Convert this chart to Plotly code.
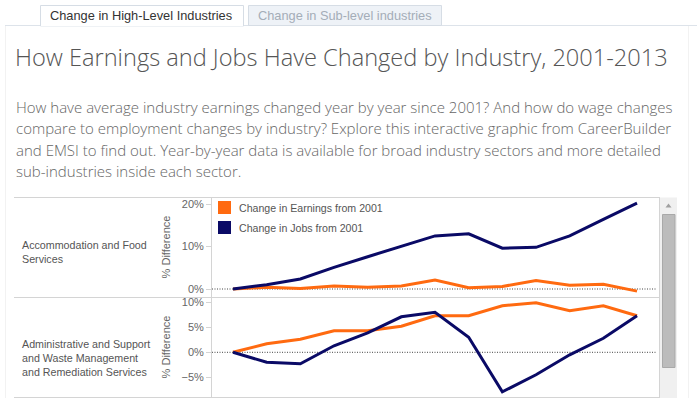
import plotly.graph_objects as go

years = list(range(2001, 2014))
industries = ["Accommodation and Food<br>Services",
              "Administrative and Support<br>and Waste Management<br>and Remediation Services"]
earn_food = [0.0, 0.4, 0.1, 0.7, 0.4, 0.7, 2.1, 0.3, 0.6, 2.0, 0.9, 1.1, -0.5]
jobs_food = [0.0, 1.0, 2.35, 5.1, 7.6, 10.1, 12.5, 13.0, 9.6, 9.8, 12.5, 16.4, 20.2]
earn_admin = [0.0, 1.7, 2.6, 4.3, 4.3, 5.2, 7.3, 7.3, 9.3, 9.9, 8.3, 9.3, 7.3]
jobs_admin = [0.0, -2.0, -2.3, 1.3, 3.9, 7.1, 8.0, 3.0, -7.9, -4.5, -0.5, 2.8, 7.3]
legend_labels = ["Change in Earnings from 2001", "Change in Jobs from 2001"]
top_ticks = [0, 0.1, 0.2]
bottom_ticks = [-0.05, 0, 0.05, 0.1]

W, H = 697, 398
ORANGE = "#FF6A10"
NAVY = "#0A0A66"


def px(x):
    return x / W


def py(y):
    return 1 - y / H


fig = go.Figure()
fig.update_layout(
    xaxis=dict(domain=[px(212), px(659)], range=[2000.376, 2013.653], visible=False),
    yaxis=dict(domain=[py(297), py(197)], range=[-0.0188, 0.2165]),
    xaxis2=dict(domain=[px(212), px(659)], range=[2000.376, 2013.653], visible=False, anchor="y2"),
    yaxis2=dict(domain=[py(397), py(297)], range=[-0.0894, 0.1106], anchor="x2"),
)
for ax, ticks in (("yaxis", top_ticks), ("yaxis2", bottom_ticks)):
    fig.layout[ax].update(
        tickvals=ticks, tickformat=".0%", showgrid=False, zeroline=False,
        showline=True, linecolor="#d4d4d4", linewidth=1,
        ticks="outside", ticklen=5, tickcolor="#d4d4d4",
        tickfont=dict(family="Arial", size=11, color="#666"),
        title=dict(text="% Difference", font=dict(family="Arial", size=11, color="#666"), standoff=8),
    )


def frac(v):
    return [a / 100 for a in v]


fig.add_trace(go.Scatter(x=years, y=frac(earn_food), mode="lines", line=dict(color=ORANGE, width=3),
                         xaxis="x", yaxis="y", showlegend=False, name=legend_labels[0]))
fig.add_trace(go.Scatter(x=years, y=frac(jobs_food), mode="lines", line=dict(color=NAVY, width=3),
                         xaxis="x", yaxis="y", showlegend=False, name=legend_labels[1]))
fig.add_trace(go.Scatter(x=years, y=frac(earn_admin), mode="lines", line=dict(color=ORANGE, width=3),
                         xaxis="x2", yaxis="y2", showlegend=False, name=legend_labels[0]))
fig.add_trace(go.Scatter(x=years, y=frac(jobs_admin), mode="lines", line=dict(color=NAVY, width=3),
                         xaxis="x2", yaxis="y2", showlegend=False, name=legend_labels[1]))

shapes = []
for yr in ("y", "y2"):
    shapes.append(dict(type="line", xref="paper", yref=yr, x0=px(212), x1=px(657), y0=0, y1=0,
                       line=dict(color="#444", width=1, dash="1px,1.5px"), layer="below"))
# page frame
shapes.append(dict(type="line", xref="paper", yref="paper", x0=px(5.5), x1=px(5.5), y0=0, y1=py(25),
                   line=dict(color="#f2f2f2", width=1)))
shapes.append(dict(type="line", xref="paper", yref="paper", x0=px(688.5), x1=px(688.5), y0=0, y1=py(25),
                   line=dict(color="#f2f2f2", width=1)))
# tab bar line
shapes.append(dict(type="line", xref="paper", yref="paper", x0=px(5), x1=1, y0=py(25.5), y1=py(25.5),
                   line=dict(color="#dde3ea", width=1)))
# tabs
shapes.append(dict(type="rect", xref="paper", yref="paper", x0=px(40.5), x1=px(243.5), y0=py(26), y1=py(5.5),
                   line=dict(color="#d6dde5", width=1), fillcolor="white"))
shapes.append(dict(type="line", xref="paper", yref="paper", x0=px(41), x1=px(243), y0=py(25.5), y1=py(25.5),
                   line=dict(color="white", width=1.5)))
shapes.append(dict(type="rect", xref="paper", yref="paper", x0=px(248.5), x1=px(441.5), y0=py(25.5), y1=py(5.5),
                   line=dict(color="#d6dde5", width=1), fillcolor="#eef2f7"))
# chart panel lines
for yy in (197.5, 297.5, 397.5):
    shapes.append(dict(type="line", xref="paper", yref="paper", x0=px(14), x1=px(660), y0=py(yy), y1=py(yy),
                       line=dict(color="#d4d4d4", width=1)))
shapes.append(dict(type="line", xref="paper", yref="paper", x0=px(659.5), x1=px(659.5), y0=py(398), y1=py(197),
                   line=dict(color="#d4d4d4", width=1)))
# scrollbar
shapes.append(dict(type="rect", xref="paper", yref="paper", x0=px(660), x1=px(677), y0=py(398), y1=py(197.5),
                   line=dict(width=0), fillcolor="#f0f0f0"))
shapes.append(dict(type="rect", xref="paper", yref="paper", x0=px(662.5), x1=px(675), y0=py(367.5), y1=py(214.5),
                   line=dict(color="#a9a9a9", width=1), fillcolor="#bcbcbc"))
shapes.append(dict(type="path", xref="paper", yref="paper",
                   path=f"M {px(665.5)} {py(207.5)} L {px(671.5)} {py(207.5)} L {px(668.5)} {py(203.5)} Z",
                   line=dict(width=0), fillcolor="#a0a0a0"))
# legend squares
for i, col in enumerate((ORANGE, NAVY)):
    y0 = 201 + 20 * i
    shapes.append(dict(type="rect", xref="paper", yref="paper", x0=px(218), x1=px(231), y0=py(y0 + 13), y1=py(y0),
                       line=dict(width=0), fillcolor=col))

annotations = []
for i, lab in enumerate(legend_labels):
    annotations.append(dict(text=lab, xref="paper", yref="paper", x=px(237), y=py(208 + 20 * i),
                            xanchor="left", yanchor="middle", showarrow=False,
                            font=dict(family="Arial", size=10.6, color="#555")))
annotations.append(dict(text="Change in High-Level Industries", xref="paper", yref="paper", x=px(141), y=py(16),
                        xanchor="center", yanchor="middle", showarrow=False,
                        font=dict(family="Arial", size=12.8, color="#333")))
annotations.append(dict(text="Change in Sub-level industries", xref="paper", yref="paper", x=px(345), y=py(16),
                        xanchor="center", yanchor="middle", showarrow=False,
                        font=dict(family="Arial", size=12.8, color="#a4adb8")))
annotations.append(dict(text="How Earnings and Jobs Have Changed by Industry, 2001-2013", xref="paper", yref="paper",
                        x=px(13), y=py(57), xanchor="left", yanchor="middle", showarrow=False,
                        font=dict(family="Open Sans", size=23.6, color="#555", weight=300)))
para = ["How have average industry earnings changed year by year since 2001? And how do wage changes",
        "compare to employment changes by industry? Explore this interactive graphic from CareerBuilder",
        "and EMSI to find out. Year-by-year data is available for broad industry sectors and more detailed",
        "sub-industries inside each sector."]
for i, line in enumerate(para):
    annotations.append(dict(text=line, xref="paper", yref="paper", x=px(14), y=py(107 + 21.3 * i),
                            xanchor="left", yanchor="middle", showarrow=False,
                            font=dict(family="Open Sans", size=15, color="#666", weight=300)))
annotations.append(dict(text=industries[0], xref="paper", yref="paper", x=px(20), y=py(251.5),
                        xanchor="left", yanchor="middle", showarrow=False, align="left",
                        font=dict(family="Arial", size=10.7, color="#555")))
annotations.append(dict(text=industries[1], xref="paper", yref="paper", x=px(20), y=py(358),
                        xanchor="left", yanchor="middle", showarrow=False, align="left",
                        font=dict(family="Arial", size=10.7, color="#555")))

fig.update_layout(
    width=W, height=H, margin=dict(l=0, r=0, t=0, b=0),
    paper_bgcolor="white", plot_bgcolor="white",
    shapes=shapes, annotations=annotations, showlegend=False,
)
fig.write_html("out.html", config={"displayModeBar": False},
               post_script="document.body.style.margin='0';document.body.style.overflow='hidden';")
